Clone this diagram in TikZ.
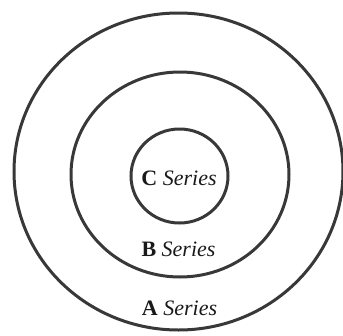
\documentclass[tikz,border=0pt]{standalone}
\usepackage{fontspec}
\setmainfont{Liberation Serif}
\begin{document}
\begin{tikzpicture}[x=1pt,y=-1pt,
  ring/.style={draw=black!78,line width=3pt},
  lbl/.style={font=\fontsize{22}{25}\selectfont,inner sep=0pt,text=black!90}]
\useasboundingbox (0,0) rectangle (343,335);
\draw[ring] (178.5,171.5) ellipse [x radius=164.5, y radius=158.5];
\draw[ring] (180,174.5) ellipse [x radius=109, y radius=102.5];
\draw[ring] (179.5,176) ellipse [x radius=48.5, y radius=47];
\node[lbl] (c) at (179,178) {\textbf{C} \textit{Series}};
\node[lbl] (b) at (178.5,249) {\textbf{B} \textit{Series}};
\node[lbl] (a) at (179.5,308) {\textbf{A} \textit{Series}};
\end{tikzpicture}
\end{document}
